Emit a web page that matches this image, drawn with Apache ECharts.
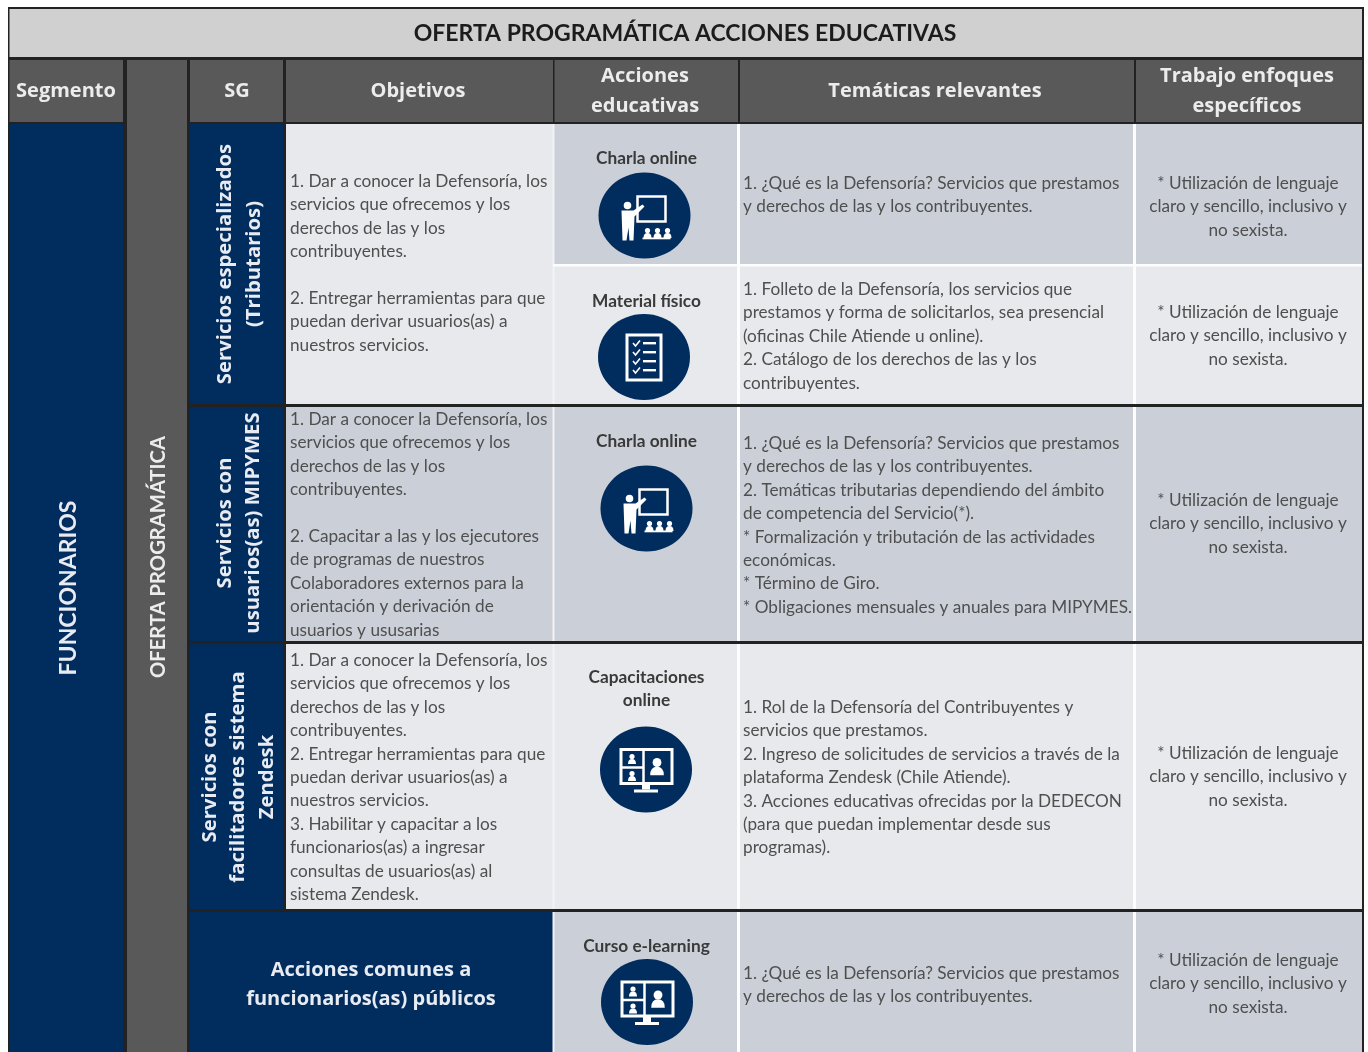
<!DOCTYPE html>
<html><head><meta charset="utf-8">
<style>html,body{margin:0;padding:0;background:#fff}#c{width:1368px;height:1052px;filter:blur(0.45px)}</style>
<script src="https://cdn.jsdelivr.net/npm/echarts@6/dist/echarts.min.js"></script>
</head><body><div id="c"></div>
<script>
// ---------- content ----------
const tableTitle = 'OFERTA PROGRAMÁTICA ACCIONES EDUCATIVAS';
const segmentLabel = 'FUNCIONARIOS';
const offerLabel = 'OFERTA PROGRAMÁTICA';
const headerLabels = ['Segmento', 'SG', 'Objetivos', 'Acciones\neducativas', 'Temáticas relevantes', 'Trabajo enfoques\nespecíficos'];
const sgLabels = [
  'Servicios especializados\n(Tributarios)',
  'Servicios con\nusuarios(as) MIPYMES',
  'Servicios con\nfacilitadores sistema\nZendesk'
];
const commonLabel = 'Acciones comunes a\nfuncionarios(as) públicos';
const objectives = [
  '1. Dar a conocer la Defensoría, los\nservicios que ofrecemos y los\nderechos de las y los\ncontribuyentes.\n\n2. Entregar herramientas para que\npuedan derivar usuarios(as) a\nnuestros servicios.',
  '1. Dar a conocer la Defensoría, los\nservicios que ofrecemos y los\nderechos de las y los\ncontribuyentes.\n\n2. Capacitar a las y los ejecutores\nde programas de nuestros\nColaboradores externos para la\norientación y derivación de\nusuarios y ususarias',
  '1. Dar a conocer la Defensoría, los\nservicios que ofrecemos y los\nderechos de las y los\ncontribuyentes.\n2. Entregar herramientas para que\npuedan derivar usuarios(as) a\nnuestros servicios.\n3. Habilitar y capacitar a los\nfuncionarios(as) a ingresar\nconsultas de usuarios(as) al\nsistema Zendesk.'
];
const actions = ['Charla online', 'Material físico', 'Charla online', 'Capacitaciones\nonline', 'Curso e-learning'];
const actionIcons = ['teach', 'list', 'teach', 'screen', 'screen'];
const topics = [
  '1. ¿Qué es la Defensoría? Servicios que prestamos\ny derechos de las y los contribuyentes.',
  '1. Folleto de la Defensoría, los servicios que\nprestamos y forma de solicitarlos, sea presencial\n(oficinas Chile Atiende u online).\n2. Catálogo de los derechos de las y los\ncontribuyentes.',
  '1. ¿Qué es la Defensoría? Servicios que prestamos\ny derechos de las y los contribuyentes.\n2. Temáticas tributarias dependiendo del ámbito\nde competencia del Servicio(*).\n* Formalización y tributación de las actividades\neconómicas.\n* Término de Giro.\n* Obligaciones mensuales y anuales para MIPYMES.',
  '1. Rol de la Defensoría del Contribuyentes y\nservicios que prestamos.\n2. Ingreso de solicitudes de servicios a través de la\nplataforma Zendesk (Chile Atiende).\n3. Acciones educativas ofrecidas por la DEDECON\n(para que puedan implementar desde sus\nprogramas).',
  '1. ¿Qué es la Defensoría? Servicios que prestamos\ny derechos de las y los contribuyentes.'
];
const focusText = '* Utilización de lenguaje\nclaro y sencillo, inclusivo y\nno sexista.';

// ---------- layout ----------
const COL = [9.5, 123, 127, 187, 190, 283, 286, 553, 738, 1134, 1362];
const NAVY = '#002c5e', LIGHT = '#e7e9ec', MID = '#cbd0d8', HEAD = '#595959', INK = '#4f4f4f';
const BODY = 'Lato', HEADF = '"Open Sans"';

const rects = [], labels = [], icons = [];
const rect = (x0, y0, x1, y1, fill) => rects.push({ value: [x0, y0, x1, y1], fill });
const text = (x, y, t, o) => labels.push(Object.assign({ value: [x, y], t }, o));

rect(8, 7, 1364, 1052, '#222222');
rect(COL[0], 9, COL[10], 57, '#d0d0d0');
[[COL[0], COL[1]], [COL[2], COL[3]], [COL[4], COL[5]], [COL[6], COL[7]], [COL[7] + 1.5, COL[8]], [COL[8] + 2, COL[9]], [COL[9] + 2, COL[10]]]
  .forEach(c => rect(c[0], 60, c[1], 122, HEAD));
rect(COL[2], 60, COL[3], 1052, HEAD);
rect(COL[0], 124, COL[1], 1052, NAVY);
rect(COL[4], 124, COL[5], 404, NAVY);
rect(COL[4], 407, COL[5], 641, NAVY);
rect(COL[4], 644, COL[5], 909, NAVY);
rect(COL[4], 912, COL[7], 1052, NAVY);
rect(COL[6], 124, COL[7], 404, LIGHT);
rect(COL[6], 407, COL[7], 641, MID);
rect(COL[6], 644, COL[7], 909, LIGHT);
const bands = [[124, 265, MID], [265, 404, LIGHT], [407, 641, MID], [644, 909, LIGHT], [912, 1052, MID]];
bands.forEach(b => rect(COL[7], b[0], COL[10], b[1], b[2]));
[[124, 404], [407, 641], [644, 909], [912, 1052]].forEach(s => {
  rect(COL[7] - 0.5, s[0], COL[7] + 1.5, s[1], '#f2f3f5');
  rect(COL[8] - 1, s[0], COL[8] + 2, s[1], '#fdfdfd');
  rect(COL[9] - 1, s[0], COL[9] + 2, s[1], '#fdfdfd');
});
rect(COL[7], 264, COL[10], 266.5, '#fdfdfd');

text(685, 33.5, tableTitle, { font: 'bold 23px ' + BODY, fill: '#1c1c1c', align: 'center' });
const headX = [66, 237, 418, 645, 935, 1247];
headerLabels.forEach((h, i) => text(headX[i], h.includes('\n') ? 91.5 : 91, h, { font: 'bold 20px ' + HEADF, fill: '#ececec', align: 'center', lh: 29.5 }));
text(68.5, 588, segmentLabel, { font: 'bold 23px ' + BODY, fill: '#e8ecf2', align: 'center', rot: 1 });
text(158, 557, offerLabel, { font: 'bold 20.2px ' + BODY, fill: '#ececec', align: 'center', rot: 1 });
const sgPos = [[239.5, 264], [239, 523], [238.5, 777]];
sgLabels.forEach((s, i) => text(sgPos[i][0], sgPos[i][1], s, { font: 'bold 20.3px ' + HEADF, fill: '#e8ecf2', align: 'center', rot: 1, lh: 28.5 }));
text(371, 985, commonLabel, { font: 'bold 20px ' + HEADF, fill: '#e8ecf2', align: 'center', lh: 29.5 });

const LH = 23.4, BF = '17.2px ' + BODY;
const firstObj = [181.5, 419.5, 660.5];
objectives.forEach((t, i) => text(290, firstObj[i], t, { font: BF, fill: INK, align: 'left', lh: LH, top: 1 }));
const firstTopic = [183.5, 289.5, 443.5, 707.5, 973.5];
topics.forEach((t, i) => text(743, firstTopic[i], t, { font: BF, fill: INK, align: 'left', lh: LH, top: 1 }));
const firstFocus = [183.5, 312.5, 500.5, 753.5, 960.5];
firstFocus.forEach(y => text(1248, y, focusText, { font: BF, fill: INK, align: 'center', lh: LH, top: 1 }));
const firstAction = [158.3, 301.3, 441.3, 677.3, 946.3];
actions.forEach((t, i) => text(646.5, firstAction[i], t, { font: 'bold 17.3px ' + BODY, fill: '#3a3a3a', align: 'center', lh: LH, top: 1 }));

const iconCenters = [[644.5, 215.5], [644, 357], [646.5, 508.5], [646, 769.5], [647, 1002]];
actionIcons.forEach((k, i) => icons.push({ value: iconCenters[i], kind: k }));

// ---------- icon glyphs, relative to the disc centre ----------
const W = '#ffffff';
const R = (x, y, w, h, stroke) => ({ type: 'rect', shape: { x, y, width: w, height: h }, style: stroke ? { fill: 'none', stroke: W, lineWidth: stroke } : { fill: W } });
const C = (x, y, r) => ({ type: 'circle', shape: { cx: x, cy: y, r }, style: { fill: W } });
const L = (a, b, c, d, w) => ({ type: 'line', shape: { x1: a, y1: b, x2: c, y2: d }, style: { stroke: W, lineWidth: w } });
const person = (x, y, s) => [C(x, y, 2.6 * s), { type: 'path', shape: { pathData: 'M-4 5 Q-4 0 0 0 Q4 0 4 5 Z', x: x - 4 * s, y: y + 2.5 * s, width: 8 * s, height: 5 * s }, style: { fill: W } }];
const glyphs = {
  teach: () => [
    R(-7, -19, 28, 25, 2.5), C(-17, -10, 3.8),
    { type: 'polygon', shape: { points: [[-23, -5], [-11, -5], [-2, -11], [0, -9], [-10, 1], [-11, 25], [-15, 25], [-16, 12], [-18, 25], [-22, 25]] }, style: { fill: W } },
    ...person(3, 15, 1), ...person(13, 15, 1), ...person(23, 15, 1), R(-2, 22, 28, 1.8)
  ],
  list: () => {
    const out = [R(-17, -22, 34, 45, 3)];
    [-14, -5, 4, 13].forEach(y => {
      out.push({ type: 'polyline', shape: { points: [[-11, y], [-8.5, y + 3], [-4, y - 2.5]] }, style: { stroke: W, lineWidth: 1.6, fill: 'none' } });
      out.push(R(-1, y - 1, 13, 2.4));
    });
    return out;
  },
  screen: () => [
    R(-25, -20, 51, 34, 3), L(-2.5, -20, -2.5, 14, 2.5), L(-25, -2, -2.5, -2, 2.5),
    ...person(-14, -13, 1), ...person(-14, 4, 1), ...person(11, -7, 1.7),
    R(-4, 15, 8, 5), R(-12, 20, 24, 3)
  ]
};

// ---------- chart ----------
const baseSeries = { type: 'custom', coordinateSystem: 'cartesian2d', clip: false, silent: true, animation: false };
const chart = echarts.init(document.getElementById('c'), null, { renderer: 'canvas' });
chart.setOption({
  backgroundColor: '#ffffff',
  animation: false,
  tooltip: { show: false },
  grid: { left: 0, right: 0, top: 0, bottom: 0 },
  xAxis: { type: 'value', min: 0, max: 1368, show: false },
  yAxis: { type: 'value', min: 0, max: 1052, inverse: true, show: false },
  series: [
    Object.assign({}, baseSeries, {
      name: 'cells', encode: { x: [0, 2], y: [1, 3] }, data: rects, z: 1,
      renderItem(p, api) {
        const d = rects[p.dataIndex];
        const a = api.coord([api.value(0), api.value(1)]), b = api.coord([api.value(2), api.value(3)]);
        return { type: 'rect', shape: { x: a[0], y: a[1], width: b[0] - a[0], height: b[1] - a[1] }, style: { fill: d.fill } };
      }
    }),
    Object.assign({}, baseSeries, {
      name: 'icons', encode: { x: 0, y: 1 }, data: icons, z: 2,
      renderItem(p, api) {
        const d = icons[p.dataIndex], c = api.coord([api.value(0), api.value(1)]);
        return { type: 'group', x: c[0], y: c[1], children: [
          { type: 'ellipse', shape: { cx: 0, cy: 0, rx: 46, ry: 43 }, style: { fill: NAVY } }, ...glyphs[d.kind]()
        ] };
      }
    }),
    Object.assign({}, baseSeries, {
      name: 'labels', encode: { x: 0, y: 1 }, data: labels, z: 3,
      renderItem(p, api) {
        const d = labels[p.dataIndex], c = api.coord([api.value(0), api.value(1)]);
        const lh = d.lh || 28;
        return { type: 'text', x: c[0], y: d.top ? c[1] - lh / 2 : c[1], rotation: d.rot ? Math.PI / 2 : 0,
          style: { text: d.t, x: 0, y: 0, font: d.font, fill: d.fill, align: d.align, verticalAlign: d.top ? 'top' : 'middle', lineHeight: lh } };
      }
    })
  ]
});
</script></body></html>
